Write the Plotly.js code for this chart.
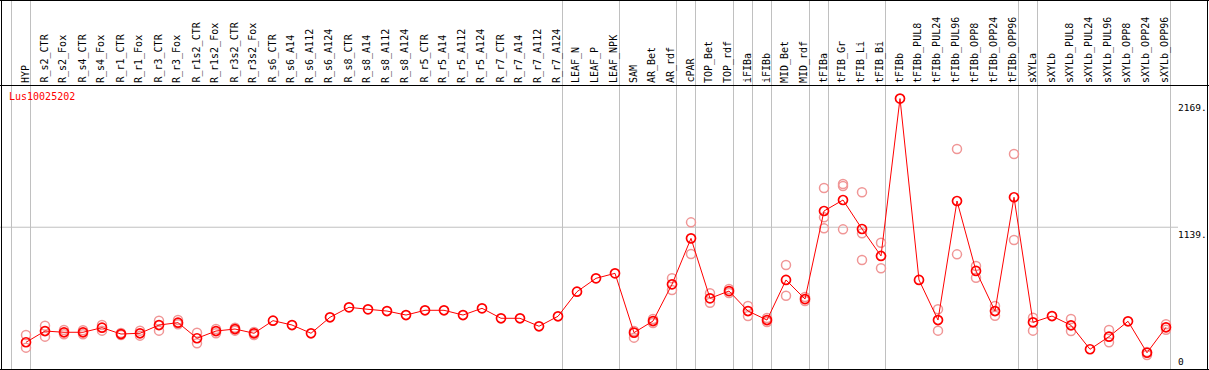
<!DOCTYPE html>
<html>
<head>
<meta charset="utf-8">
<script src="https://cdn.plot.ly/plotly-3.0.1.min.js"></script>
<style>html,body{margin:0;padding:0;background:#fff;}#chart{width:1209px;height:370px;}</style>
</head>
<body>
<div id="chart"></div>
<script>
// ---- data ----
var categories = ["HYP","R_s2_CTR","R_s2_Fox","R_s4_CTR","R_s4_Fox","R_r1_CTR","R_r1_Fox","R_r3_CTR","R_r3_Fox","R_r1s2_CTR","R_r1s2_Fox","R_r3s2_CTR","R_r3s2_Fox","R_s6_CTR","R_s6_A14","R_s6_A112","R_s6_A124","R_s8_CTR","R_s8_A14","R_s8_A112","R_s8_A124","R_r5_CTR","R_r5_A14","R_r5_A112","R_r5_A124","R_r7_CTR","R_r7_A14","R_r7_A112","R_r7_A124","LEAF_N","LEAF_P","LEAF_NPK","SAM","AR_Bet","AR_rdf","cPAR","TOP_Bet","TOP_rdf","iFIBa","iFIBb","MID_Bet","MID_rdf","tFIBa","tFIB_Gr","tFIB_Li","tFIB_Bi","tFIBb","tFIBb_PUL8","tFIBb_PUL24","tFIBb_PUL96","tFIBb_OPP8","tFIBb_OPP24","tFIBb_OPP96","sXYLa","sXYLb","sXYLb_PUL8","sXYLb_PUL24","sXYLb_PUL96","sXYLb_OPP8","sXYLb_OPP24","sXYLb_OPP96"];

var meanValues = [218,308,298,298,335,284,290,356,375,250,308,324,290,391,356,290,418,498,482,468,436,474,474,436,490,410,410,346,426,623,730,770,295,388,682,1050,570,628,468,396,717,564,1269,1357,1125,909,2169,717,396,1349,789,468,1379,378,428,354,162,263,386,134,338];

var rep1 = [276,351,316,314,356,292,311,391,396,295,324,335,300,null,null,null,null,null,null,null,null,null,null,null,null,null,null,null,null,null,null,null,308,404,730,1178,610,644,508,412,837,580,1453,1485,1419,1015,null,null,482,1765,829,508,1725,415,null,404,null,316,null,140,362];
var rep2 = [175,263,282,282,311,276,271,311,362,210,290,311,276,null,null,null,null,null,null,null,null,null,null,null,null,null,null,null,null,null,null,null,255,372,636,925,535,612,428,380,591,548,1218,1469,1090,810,null,null,311,922,735,431,1037,311,null,308,null,218,null,116,318];
var rep3 = [null,null,null,null,null,null,null,null,null,null,null,null,null,null,null,null,null,null,null,null,null,null,null,null,null,null,null,null,null,null,null,null,null,null,null,null,null,null,null,null,null,null,1130,1122,877,null,null,null,null,null,null,null,null,null,null,null,null,null,null,null,null];

var geneName = "Lus10025202";
var yTickValues = [0, 1139, 2169];
var yTickLabels = ["0", "1139.", "2169."];
// separators placed after these categories (plus one before the first)
var groupEnds = ["HYP","R_r7_A124","LEAF_NPK","AR_rdf","cPAR","TOP_rdf","iFIBa","iFIBb","MID_rdf","tFIBa","tFIB_Bi","tFIBb_OPP96","sXYLa","sXYLb_OPP96"];

// ---- geometry helpers (pixels) ----
var W = 1209, H = 370;
function px(x){ return x / W; }
function py(y){ return 1 - y / H; }

var idx = categories.map(function(_, i){ return i; });

var repX = [], repY = [];
[rep1, rep2, rep3].forEach(function(r){
  r.forEach(function(v, i){ if (v !== null) { repX.push(i); repY.push(v); } });
});

var traces = [
  {
    x: repX, y: repY, type: 'scatter', mode: 'markers', hoverinfo: 'skip',
    marker: {symbol: 'circle-open', size: 9, color: 'rgb(240,150,150)', line: {width: 1.5, color: 'rgb(240,150,150)'}}
  },
  {
    x: idx, y: meanValues, type: 'scatter', mode: 'lines+markers',
    line: {color: '#ff0000', width: 1},
    marker: {symbol: 'circle-open', size: 9, color: '#ff0000', line: {width: 1.7, color: '#ff0000'}}
  }
];

var shapes = [];
var sepIdx = [-1].concat(groupEnds.map(function(n){ return categories.indexOf(n); }));
sepIdx.forEach(function(k){
  shapes.push({type: 'line', xref: 'x', yref: 'paper', x0: k + 0.237, x1: k + 0.237, y0: 0, y1: 1,
    line: {color: '#c0c0c0', width: 1}, layer: 'below'});
});
// horizontal grid at middle tick
shapes.push({type: 'line', xref: 'paper', yref: 'y', x0: 0, x1: px(1178), y0: yTickValues[1], y1: yTickValues[1],
  line: {color: '#c0c0c0', width: 1}, layer: 'below'});
// frame
shapes.push({type: 'line', xref: 'paper', yref: 'paper', x0: px(1.5), x1: px(1.5), y0: 0, y1: 1, line: {color: '#000', width: 1}});
shapes.push({type: 'line', xref: 'paper', yref: 'paper', x0: px(1207.5), x1: px(1207.5), y0: 0, y1: 1, line: {color: '#000', width: 1}});
shapes.push({type: 'line', xref: 'paper', yref: 'paper', x0: 0, x1: 1, y0: py(0.5), y1: py(0.5), line: {color: '#000', width: 1}});
shapes.push({type: 'line', xref: 'paper', yref: 'paper', x0: 0, x1: 1, y0: py(85.5), y1: py(85.5), line: {color: '#000', width: 1}});
shapes.push({type: 'line', xref: 'paper', yref: 'paper', x0: 0, x1: 1, y0: py(369.5), y1: py(369.5), line: {color: '#000', width: 1}});

var monoFont = {family: 'DejaVu Sans Mono', size: 10, color: '#000'};
var annotations = categories.map(function(c, i){
  return {x: i, xref: 'x', y: py(84), yref: 'paper', text: c, showarrow: false,
    textangle: -90, xanchor: 'center', yanchor: 'bottom', xshift: -1, borderpad: 0, font: monoFont};
});
annotations.push({x: px(8), xref: 'paper', y: py(90), yref: 'paper', text: geneName, showarrow: false,
  xanchor: 'left', yanchor: 'top', borderpad: 0, font: {family: 'DejaVu Sans Mono', size: 10, color: '#ff0000'}});
var shifts = [{a: 'bottom', s: 2}, {a: 'top', s: -1}, {a: 'top', s: -2}];
yTickValues.forEach(function(v, i){
  annotations.push({x: px(1177), xref: 'paper', y: v, yref: 'y', text: yTickLabels[i], showarrow: false,
    xanchor: 'left', yanchor: shifts[i].a, yshift: shifts[i].s, borderpad: 0, font: {family: 'DejaVu Sans Mono', size: 9.5, color: '#000'}});
});

var layout = {
  width: W, height: H,
  margin: {l: 0, r: 0, t: 0, b: 0, pad: 0},
  paper_bgcolor: '#fff', plot_bgcolor: '#fff',
  showlegend: false,
  xaxis: {range: [-26/19, (W - 26)/19], visible: false, fixedrange: true},
  yaxis: {range: [-0.5 * 8.006, 369.5 * 8.006], visible: false, fixedrange: true},
  shapes: shapes,
  annotations: annotations
};

Plotly.newPlot('chart', traces, layout, {displayModeBar: false, staticPlot: true});
</script>
</body>
</html>
